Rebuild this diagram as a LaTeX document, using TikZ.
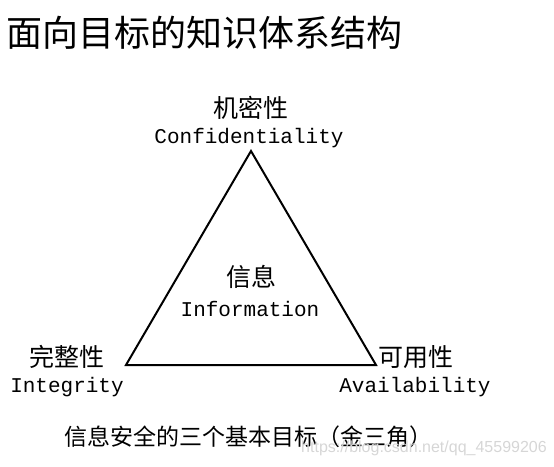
\documentclass[tikz,border=0pt]{standalone}
\usepackage{fontspec}
\newfontfamily\cjk{Noto Sans CJK SC}
\newfontfamily\mono{Liberation Mono}
\newfontfamily\wmark{Liberation Sans}
\tikzset{
  zhlabel/.style={font=\cjk\fontsize{25}{25}\selectfont,inner sep=0pt},
  enlabel/.style={font=\mono\fontsize{21}{21}\selectfont,inner sep=0pt},
}
\begin{document}
\begin{tikzpicture}[x=1pt,y=-1pt]
	\useasboundingbox (0,0) rectangle (554,466);
	\node [anchor=west,inner sep=0pt,font=\cjk\fontsize{36}{36}\selectfont] (title) at (6,33) {面向目标的知识体系结构};
	% triangle corners
	\coordinate (conf) at (251,151);
	\coordinate (integ) at (126,365);
	\coordinate (avail) at (376,365);
	\draw [line width=2pt,line join=miter] (conf) -- (integ) -- (avail) -- cycle;
	% labels
	\node [zhlabel] (confzh) at (251,108) {机密性};
	\node [enlabel] (confen) at (249,138) {Confidentiality};
	\node [zhlabel] (infozh) at (251,277) {信息};
	\node [enlabel] (infoen) at (250,309) {Information};
	\node [zhlabel] (integzh) at (67,357) {完整性};
	\node [enlabel] (integen) at (67,387) {Integrity};
	\node [zhlabel] (availzh) at (416,357) {可用性};
	\node [enlabel] (availen) at (415,387) {Availability};
	\node [zhlabel,font=\cjk\fontsize{23}{23}\selectfont] (caption) at (248,437) {信息安全的三个基本目标（金三角）};
	% watermark
	\node [inner sep=0pt,text=black!16,font=\wmark\fontsize{16}{16}\selectfont] (wm) at (424,448) {https://blog.csdn.net/qq\_45599206};
\end{tikzpicture}
\end{document}
